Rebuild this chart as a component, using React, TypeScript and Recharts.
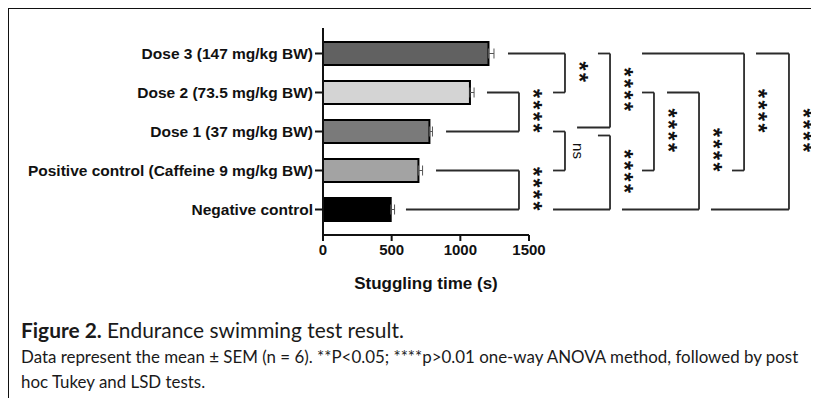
import { Bar, BarChart, Cell, ErrorBar, ReferenceLine, XAxis, YAxis } from "recharts";

const groups = [
  "Dose 3 (147 mg/kg BW)",
  "Dose 2 (73.5 mg/kg BW)",
  "Dose 1 (37 mg/kg BW)",
  "Positive control (Caffeine 9 mg/kg BW)",
  "Negative control",
];
const meanTime = [1205, 1070, 775, 695, 493];
const semTime = [40, 30, 22, 30, 28];
const xTicks = [0, 500, 1000, 1500];

// pairwise comparisons: [top group, bottom group, label]
const comparisons: [number, number, string][] = [
  [1, 2, "****"],
  [3, 4, "****"],
  [0, 1, "**"],
  [2, 3, "ns"],
  [0, 2, "****"],
  [2, 4, "****"],
  [1, 3, "****"],
  [1, 4, "****"],
  [0, 3, "****"],
  [0, 4, "****"],
];

const barFills = ["#616161", "#d4d4d4", "#7a7a7a", "#a3a3a3", "#000000"];
const font = "'Liberation Sans', Arial, sans-serif";
const lineColor = "#2b2b2b";

// bracket geometry in axis units (arm starts, vertical x) plus pixel nudges
const bracketLayout = [
  { topStart: 1194, bottomStart: 896, end: 1427, dyTop: 0, dyBottom: 0 },
  { topStart: 823, bottomStart: 604, end: 1427, dyTop: 0, dyBottom: 0 },
  { topStart: 1347, bottomStart: 1675, end: 1762, dyTop: 0, dyBottom: 0 },
  { topStart: 1675, bottomStart: 1675, end: 1762, dyTop: 0, dyBottom: 0 },
  { topStart: 2002, bottomStart: 1850, end: 2090, dyTop: 0, dyBottom: -4 },
  { topStart: 2002, bottomStart: 1675, end: 2090, dyTop: 4, dyBottom: 0 },
  { topStart: 2323, bottomStart: 2323, end: 2410, dyTop: 0, dyBottom: 0 },
  { topStart: 2505, bottomStart: 2177, end: 2738, dyTop: 0, dyBottom: 0 },
  { topStart: 2323, bottomStart: 2978, end: 3066, dyTop: 0, dyBottom: 0 },
  { topStart: 3153, bottomStart: 2825, end: 3393, dyTop: 0, dyBottom: 0 },
];

const data = groups.map((name, i) => ({
  name,
  mean: meanTime[i],
  err: [0, semTime[i]],
}));

function segmentShape(dy1: number, dy2: number, label?: string) {
  return (p: any) => {
    const y1 = p.y1 + dy1;
    const y2 = p.y2 + dy2;
    const cx = p.x1 + 14;
    const cy = (y1 + y2) / 2;
    const isNs = label === "ns";
    return (
      <g>
        <line x1={p.x1} y1={y1} x2={p.x2} y2={y2} stroke={lineColor} strokeWidth={1.8} />
        {label ? (
          <text
            x={cx}
            y={cy}
            textAnchor="middle"
            dominantBaseline="central"
            transform={`rotate(90 ${cx} ${cy})`}
            fontFamily={font}
            fontWeight={isNs ? 400 : 700}
            fontSize={isNs ? 15 : 23}
            letterSpacing={isNs ? 0 : 2.5}
            fill="#111"
          >
            {label}
          </text>
        ) : null}
      </g>
    );
  };
}

function renderBrackets() {
  return comparisons.flatMap(([a, b, label], i) => {
    const g = bracketLayout[i];
    return [
      <ReferenceLine
        key={`t${i}`}
        ifOverflow="visible"
        segment={[{ x: g.topStart, y: groups[a] }, { x: g.end, y: groups[a] }]}
        shape={segmentShape(g.dyTop, g.dyTop)}
      />,
      <ReferenceLine
        key={`v${i}`}
        ifOverflow="visible"
        segment={[{ x: g.end, y: groups[a] }, { x: g.end, y: groups[b] }]}
        shape={segmentShape(g.dyTop, g.dyBottom, label)}
      />,
      <ReferenceLine
        key={`b${i}`}
        ifOverflow="visible"
        segment={[{ x: g.bottomStart, y: groups[b] }, { x: g.end, y: groups[b] }]}
        shape={segmentShape(g.dyBottom, g.dyBottom)}
      />,
    ];
  });
}

export default function App() {
  return (
    <div
      style={{
        position: "relative",
        width: 820,
        height: 392,
        marginLeft: -1,
        marginTop: -1,
        borderLeft: "2px solid #111",
        borderTop: "2px solid #111",
        overflow: "hidden",
      }}
    >
      <div style={{ position: "absolute", left: 0, top: 0 }}>
        <BarChart
          width={809}
          height={300}
          data={data}
          layout="vertical"
          margin={{ top: 19, right: 289, bottom: 14, left: 14 }}
        >
          <XAxis
            type="number"
            domain={[0, 1500]}
            ticks={xTicks}
            height={60}
            tickSize={6}
            tickMargin={3}
            axisLine={{ stroke: "#111", strokeWidth: 2 }}
            tickLine={{ stroke: "#111", strokeWidth: 2 }}
            tick={{ fill: "#111", fontSize: 15, fontWeight: 700, fontFamily: font }}
            label={{
              value: "Stuggling time (s)",
              position: "insideBottom",
              offset: 6,
              fill: "#111",
              fontSize: 17,
              fontWeight: 700,
              fontFamily: font,
            }}
          />
          <YAxis
            type="category"
            dataKey="name"
            width={300}
            padding={{ top: 6, bottom: 6 }}
            tickSize={8}
            tickMargin={2}
            interval={0}
            axisLine={{ stroke: "#111", strokeWidth: 2 }}
            tickLine={{ stroke: "#111", strokeWidth: 2 }}
            tick={{ fill: "#111", fontSize: 15.5, fontWeight: 700, fontFamily: font }}
          />
          <Bar dataKey="mean" barSize={23} stroke="#000" strokeWidth={2} isAnimationActive={false}>
            {data.map((d, i) => (
              <Cell key={d.name} fill={barFills[i]} />
            ))}
            <ErrorBar dataKey="err" direction="x" width={5} stroke="#555" strokeWidth={1} />
          </Bar>
          {renderBrackets()}
        </BarChart>
      </div>
      <div
        style={{
          position: "absolute",
          left: 12,
          top: 308,
          fontFamily: "Lato, sans-serif",
          fontSize: 20.9,
          color: "#1a1a1a",
          whiteSpace: "nowrap",
        }}
      >
        <b>Figure 2.</b> Endurance swimming test result.
      </div>
      <div
        style={{
          position: "absolute",
          left: 12,
          top: 335,
          width: 810,
          fontFamily: "Lato, sans-serif",
          fontSize: 16.9,
          lineHeight: "25px",
          color: "#1a1a1a",
          whiteSpace: "nowrap",
        }}
      >
        Data represent the mean ± SEM (n = 6). **P&lt;0.05; ****p&gt;0.01 one-way ANOVA method, followed by post
        <br />
        hoc Tukey and LSD tests.
      </div>
    </div>
  );
}
